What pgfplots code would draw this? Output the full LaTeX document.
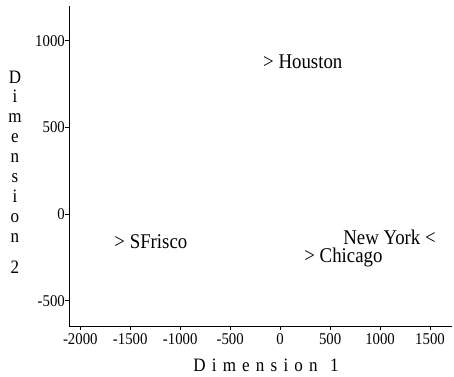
\documentclass[border=0pt]{standalone}
\usepackage{fontspec}
\setmainfont{Liberation Serif}[FakeStretch=0.9]
\usepackage{pgfplots}
\pgfplotsset{compat=1.18}
% letter-spaced axis title
\newcommand\g{\hspace{6.2bp}}
\begin{document}
\begin{tikzpicture}
\begin{axis}[
  scale only axis,
  width=383bp, height=320bp,
  xmin=-2113, xmax=1720,
  ymin=-646, ymax=1200,
  axis x line*=bottom, axis y line*=left,
  axis line style={line width=0.8bp, -},
  tick align=outside,
  major tick length=4bp,
  tick style={line width=0.8bp, black},
  xtick={-2000,-1500,...,1500},
  ytick={-500,0,500,1000},
  /pgf/number format/assume math mode=true,
  /pgf/number format/1000 sep={},
  ticklabel style={font=\fontsize{16.5}{16.5}\selectfont},
  yticklabel style={inner xsep=0pt},
  xlabel={D\g i\g m\g e\g n\g s\g i\g o\g n\g\g 1},
  xlabel style={font=\fontsize{19}{19}\selectfont, at={(axis description cs:0.5,0)},
    anchor=center, xshift=5.5bp, yshift=-39bp},
  ylabel={D\\i\\m\\e\\n\\s\\i\\o\\n\\[11bp]2},
  ylabel style={rotate=-90, align=center, font=\fontsize{19}{20}\selectfont,
    at={(axis description cs:0,0.5)}, anchor=center, xshift=-54bp, yshift=-6bp},
  clip=false,
]
% labels that sit to the right of their point
\addplot[only marks, mark=none, nodes near coords, point meta=explicit symbolic,
  nodes near coords style={anchor=west, inner sep=0pt, font=\fontsize{21}{21}\selectfont}]
  coordinates {(-171,877) [> Houston] (-1660,-161) [> SFrisco] (241,-248) [> Chicago]};
% label that sits to the left of its point
\addplot[only marks, mark=none, nodes near coords, point meta=explicit symbolic,
  nodes near coords style={anchor=east, inner sep=0pt, font=\fontsize{21}{21}\selectfont}]
  coordinates {(1559,-133) [New York <]};
\end{axis}
\pgfresetboundingbox
\path ([shift={(-69bp,-51bp)}]current axis.south west) rectangle ([shift={(2bp,6bp)}]current axis.north east);
\end{tikzpicture}
\end{document}
